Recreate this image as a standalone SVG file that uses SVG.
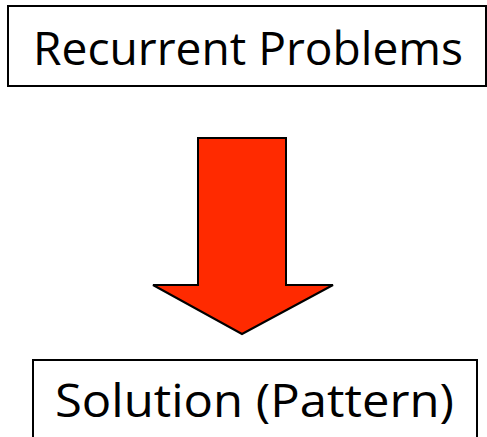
<svg xmlns="http://www.w3.org/2000/svg" width="487" height="437" viewBox="0 0 487 437">
<style>
.box{fill:#fff;stroke:#000;stroke-width:2}
.lbl{font-family:"Comic Sans MS","Open Sans","Liberation Sans",sans-serif;font-size:46px;fill:#000}
.arrow{fill:#ff2a00;stroke:#000;stroke-width:2;stroke-linejoin:miter}
</style>
<rect width="487" height="437" fill="#fff"/>
<g id="recurrent-problems">
<rect class="box" x="8" y="6" width="478" height="80"/>
<text class="lbl" x="33" y="65" textLength="430" lengthAdjust="spacingAndGlyphs">Recurrent Problems</text>
</g>
<g id="connectors">
<polygon class="arrow" points="198,138 286,138 286,285 333,285 242,334 153,285 198,285"/>
</g>
<g id="solution">
<rect class="box" x="33" y="360" width="444" height="90"/>
<text class="lbl" x="55" y="417" textLength="399" lengthAdjust="spacingAndGlyphs">Solution (Pattern)</text>
</g>
</svg>
